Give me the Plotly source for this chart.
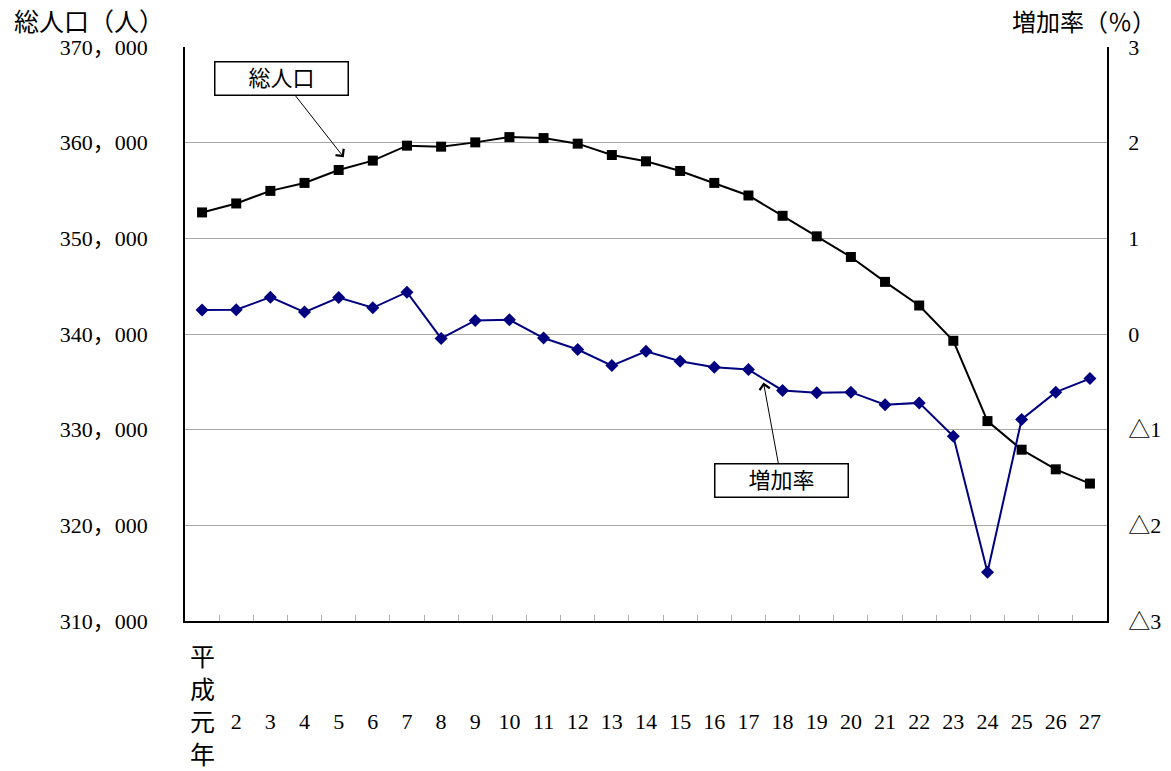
import plotly.graph_objects as go

years = ["元", "2", "3", "4", "5", "6", "7", "8", "9", "10", "11", "12", "13", "14",
         "15", "16", "17", "18", "19", "20", "21", "22", "23", "24", "25", "26", "27"]
population = [352708, 353646, 354958, 355792, 357146, 358125, 359688, 359583, 360031,
              360583, 360479, 359896, 358708, 358052, 357042, 355792, 354479, 352354,
              350208, 348052, 345448, 342979, 339292, 330896, 327906, 325854, 324365]
growth = [0.25, 0.253, 0.385, 0.229, 0.381, 0.274, 0.437, -0.046, 0.142, 0.149,
          -0.042, -0.162, -0.33, -0.181, -0.285, -0.348, -0.372, -0.59, -0.615, -0.608,
          -0.74, -0.72, -1.07, -2.49, -0.893, -0.608, -0.466]

left_vals = [310000, 320000, 330000, 340000, 350000, 360000, 370000]
left_text = ["310，000", "320，000", "330，000", "340，000", "350，000", "360，000", "370，000"]
right_vals = [-3, -2, -1, 0, 1, 2, 3]
right_text = ["△3", "△2", "△1", "0", "1", "2", "3"]

first_label = "平<br>成<br>元<br>年"
xtext = ["" if y == "元" else y for y in years]

FONT = "Liberation Serif, Noto Sans CJK JP, serif"

# The page body has an 8px margin; compensate so the plot area lands where the reference has it.
OFF = 8
W, H = 1171 - OFF, 771 - OFF
L, T = 185 - OFF, 47 - OFF
PW, PH = 1107 - 185, 621 - 47
R = W - L - PW
B = H - T - PH

fig = go.Figure()
fig.add_trace(go.Scatter(
    x=years, y=population, mode="lines+markers", name="総人口",
    line=dict(color="black", width=2),
    marker=dict(symbol="square", size=10, color="black"),
))
fig.add_trace(go.Scatter(
    x=years, y=growth, mode="lines+markers", name="増加率", yaxis="y2",
    line=dict(color="#000080", width=2),
    marker=dict(symbol="diamond", size=10, color="#000080"),
))

fig.update_layout(
    width=W, height=H,
    margin=dict(l=L, r=R, t=T, b=B, autoexpand=False),
    plot_bgcolor="white", paper_bgcolor="white",
    showlegend=False,
    font=dict(family=FONT, size=22, color="black"),
    xaxis=dict(
        type="category", categoryorder="array", categoryarray=years,
        tickmode="array", tickvals=years, ticktext=xtext,
        tickson="boundaries", ticks="inside", ticklen=6, tickcolor="#b0b0b0",
        showline=True, linecolor="black", linewidth=1.5,
        showgrid=False, range=[-0.5, 26.5], automargin=False,
        tickfont=dict(family=FONT, size=22),
        ticklabelstandoff=80,
    ),
    yaxis=dict(
        range=[310000, 370000], tickmode="array", tickvals=left_vals, ticktext=left_text,
        showgrid=True, gridcolor="#a8a8a8", gridwidth=1,
        showline=True, linecolor="black", linewidth=1.5,
        ticks="", zeroline=False, automargin=False,
        tickfont=dict(family=FONT, size=22),
        ticklabelstandoff=31,
    ),
    yaxis2=dict(
        range=[-3, 3], overlaying="y", side="right",
        tickmode="array", tickvals=right_vals, ticktext=right_text,
        showgrid=False, zeroline=False, automargin=False,
        showline=True, linecolor="black", linewidth=1.5, ticks="",
        tickfont=dict(family=FONT, size=22),
        ticklabelstandoff=15,
    ),
)

# vertical first category label
fig.add_annotation(
    x=years[0], xref="x", yref="paper", y=-(642 - 621) / PH,
    text=first_label, showarrow=False, xanchor="center", yanchor="top",
    font=dict(family=FONT, size=25),
)

fig.add_annotation(
    xref="paper", yref="paper", x=(12 - 185) / PW, y=1 + (47 - 23) / PH,
    text="総人口（人）", showarrow=False, xanchor="left", yanchor="middle",
    font=dict(family=FONT, size=25),
)
fig.add_annotation(
    xref="paper", yref="paper", x=(1158 - 185) / PW, y=1 + (47 - 23) / PH,
    text="増加率（％）", showarrow=False, xanchor="right", yanchor="middle",
    font=dict(family=FONT, size=24),
)

# Callout labels
fig.add_annotation(
    x=4.15, y=358470, xref="x", yref="y",
    text="総人口", showarrow=True, ax=-62, ay=-79,
    arrowhead=4, arrowsize=2, arrowwidth=1, arrowcolor="black",
    bordercolor="black", borderwidth=1.5, bgcolor="white", width=130, height=30,
    font=dict(family=FONT, size=22),
)
fig.add_annotation(
    x=16.44, y=-0.507, xref="x", yref="y2",
    text="増加率", showarrow=True, ax=18, ay=98,
    arrowhead=4, arrowsize=2, arrowwidth=1, arrowcolor="black",
    bordercolor="black", borderwidth=1.5, bgcolor="white", width=130, height=30,
    font=dict(family=FONT, size=22),
)

fig.write_html("out.html")
